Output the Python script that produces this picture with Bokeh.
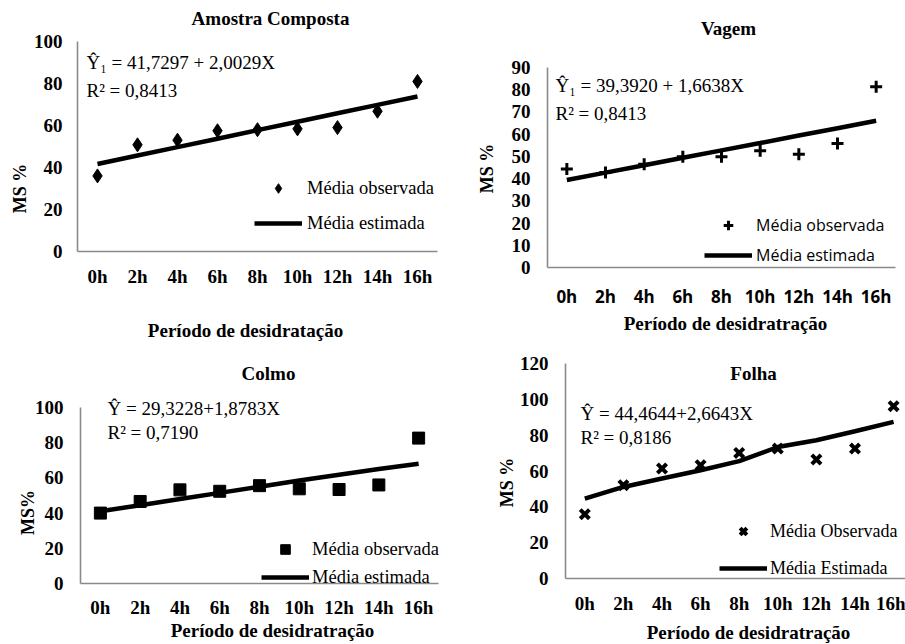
import math
from bokeh.plotting import figure
from bokeh.models import Range1d, FixedTicker, Label, Legend, LegendItem
from bokeh.layouts import column, row
from bokeh.embed import file_html
from bokeh.resources import INLINE

# ---------------- data ----------------
hours = [0, 2, 4, 6, 8, 10, 12, 14, 16]
hour_labels = ["0h", "2h", "4h", "6h", "8h", "10h", "12h", "14h", "16h"]

amostra_obs = [36.0, 50.8, 53.0, 57.5, 58.0, 58.4, 59.0, 66.8, 81.0]
amostra_est = [41.7, 45.7, 49.7, 53.7, 57.8, 61.8, 65.8, 69.8, 73.8]

vagem_obs = [44.3, 42.8, 46.5, 49.8, 49.8, 52.5, 51.0, 55.8, 81.3]
vagem_est = [39.4, 42.7, 46.0, 49.4, 52.7, 56.0, 59.4, 62.7, 66.0]

colmo_obs = [40.0, 46.6, 53.2, 52.4, 55.6, 53.8, 53.4, 56.0, 82.6]
colmo_est = [41.0, 44.5, 48.0, 51.5, 55.0, 58.5, 61.8, 65.0, 68.0]

folha_obs = [35.9, 52.1, 61.4, 63.2, 70.1, 72.5, 66.4, 72.5, 96.2]
folha_est = [44.6, 51.1, 55.8, 60.4, 65.5, 73.4, 77.2, 82.2, 87.4]

amostra_ticks = [0, 20, 40, 60, 80, 100]
vagem_ticks = [0, 10, 20, 30, 40, 50, 60, 70, 80, 90]
colmo_ticks = [0, 20, 40, 60, 80, 100]
folha_ticks = [0, 20, 40, 60, 80, 100, 120]

SERIF = "Liberation Serif"
SANS = "Open Sans"
AXIS_GRAY = "#8a8a8a"

# geometry in page pixels: canvas origin/size, y-axis x, x-axis y,
# y of the top of the value axis, pixels per hour along x
panels = [
    dict(obs=amostra_obs, est=amostra_est, yticks=amostra_ticks,
         origin=(0, 0), size=(460, 350), L=77, B=251, ytop=41, ppx=20.0,
         marker="diamond", msize=14, mlw=1,
         title=("Amostra Composta", 270, 18),
         eq1=("Ŷ₁ = 41,7297 + 2,0029X", 86, 62), eq2=("R² = 0,8413", 86, 90),
         ytitle=("MS %", 19, 188), xtitle=("Período de desidratação", 245, 330),
         leg=dict(cx=278, y1=188, y2=223, tx=307, font=SERIF, size="18.5px"),
         xfont=SERIF, xfsize="19px", ystand=15, xstand=14),
    dict(obs=vagem_obs, est=vagem_est, yticks=vagem_ticks,
         origin=(460, 0), size=(445, 350), L=547, B=267, ytop=67, ppx=19.333,
         marker="cross", msize=12, mlw=3,
         title=("Vagem", 728, 28),
         eq1=("Ŷ₁ = 39,3920 + 1,6638X", 555, 85), eq2=("R² = 0,8413", 555, 113),
         ytitle=("MS %", 486, 168), xtitle=("Período de desidratração", 725, 323),
         leg=dict(cx=728, y1=225, y2=255, tx=756, font=SANS, size="16px"),
         xfont=SANS, xfsize="17px", ystand=17, xstand=17),
    dict(obs=colmo_obs, est=colmo_est, yticks=colmo_ticks,
         origin=(0, 350), size=(460, 294), L=80, B=583, ytop=407, ppx=19.89,
         marker="square", msize=12, mlw=1,
         title=("Colmo", 268, 373),
         eq1=("Ŷ = 29,3228+1,8783X", 107, 408), eq2=("R² = 0,7190", 107, 432),
         ytitle=("MS%", 27, 512), xtitle=("Período de desidratração", 272, 630),
         leg=dict(cx=285, y1=549, y2=577, tx=312, font=SERIF, size="18.5px"),
         xfont=SERIF, xfsize="19px", ystand=17, xstand=13),
    dict(obs=folha_obs, est=folha_est, yticks=folha_ticks,
         origin=(460, 350), size=(445, 294), L=565, B=578, ytop=363, ppx=19.3,
         marker="x", msize=13, mlw=4,
         title=("Folha", 753, 373),
         eq1=("Ŷ = 44,4644+2,6643X", 580, 413), eq2=("R² = 0,8186", 580, 437),
         ytitle=("MS %", 506, 482), xtitle=("Período de desidratração", 748, 632),
         leg=dict(cx=743, y1=531, y2=568, tx=770, font=SERIF, size="18px"),
         xfont=SERIF, xfsize="19px", ystand=17, xstand=14),
]

obs_labels = ["Média observada", "Média observada", "Média observada", "Média Observada"]
est_labels = ["Média estimada", "Média estimada", "Média estimada", "Média Estimada"]


def build(cfg, obs_label, est_label):
    cx, cy = cfg["origin"]
    w, h = cfg["size"]
    L, B = cfg["L"], cfg["B"]
    ymax = cfg["yticks"][-1]
    ppy = (B - cfg["ytop"]) / ymax
    ppx = cfg["ppx"]
    # the frame fills the whole canvas; axes are pinned at x=-1 / y=0
    x0 = -1.0 - (L - cx) / ppx
    x1 = -1.0 + (cx + w - L) / ppx
    y0 = -(cy + h - B) / ppy
    y1 = (B - cy) / ppy
    p = figure(width=w, height=h, x_range=Range1d(x0, x1), y_range=Range1d(y0, y1),
               output_backend="svg", toolbar_location=None, title=None,
               min_border=0, min_border_left=0, min_border_right=0,
               min_border_top=0, min_border_bottom=0)
    p.frame_align = False
    p.outline_line_color = None
    p.xgrid.visible = False
    p.ygrid.visible = False
    p.background_fill_color = "white"
    p.border_fill_color = "white"

    def dx(px):
        return x0 + (px - cx) / ppx

    def dy(py):
        return y1 - (py - cy) / ppy

    for ax in (p.xaxis[0], p.yaxis[0]):
        ax.axis_line_color = AXIS_GRAY
        ax.axis_line_width = 1.6
        ax.major_tick_line_color = None
        ax.minor_tick_line_color = None
        ax.major_tick_out = 0
        ax.major_tick_in = 0
        ax.major_label_text_color = "black"
        ax.major_label_text_font_style = "bold"

    p.xaxis.fixed_location = 0
    p.xaxis.ticker = FixedTicker(ticks=hours)
    p.xaxis.bounds = (-1, 17)
    p.xaxis.major_label_overrides = {hh: lab for hh, lab in zip(hours, hour_labels)}
    p.xaxis.major_label_text_font = cfg["xfont"]
    p.xaxis.major_label_text_font_size = cfg["xfsize"]
    p.xaxis.major_label_standoff = cfg["xstand"]

    p.yaxis.fixed_location = -1
    p.yaxis.ticker = FixedTicker(ticks=cfg["yticks"])
    p.yaxis.bounds = (0, ymax)
    p.yaxis.major_label_text_font = SERIF
    p.yaxis.major_label_text_font_size = "19px"
    p.yaxis.major_label_standoff = cfg["ystand"]

    lr = p.line(hours, cfg["est"], line_color="black", line_width=4.5)
    sr = p.scatter(hours, cfg["obs"], marker=cfg["marker"], size=cfg["msize"],
                   fill_color="black", line_color="black", line_width=cfg["mlw"])

    lg = cfg["leg"]
    H = 24
    legend = Legend(
        items=[LegendItem(label=obs_label, renderers=[sr]),
               LegendItem(label=est_label, renderers=[lr])],
        location=(lg["cx"] - 24 - cx, (cy + h) - (lg["y2"] + H / 2)),
        orientation="vertical",
        glyph_width=48, glyph_height=H, label_height=H,
        spacing=(lg["y2"] - lg["y1"]) - H,
        label_standoff=lg["tx"] - (lg["cx"] + 24),
        padding=0, margin=0,
        border_line_color=None, background_fill_alpha=0,
        label_text_font=lg["font"], label_text_font_size=lg["size"],
        label_text_color="black",
    )
    p.add_layout(legend, "center")

    def lab(spec, align="left", bold=False, size="19px", angle=0.0):
        text, px, py = spec
        p.add_layout(Label(x=dx(px), y=dy(py), text=text, text_align=align,
                           text_baseline="middle", angle=angle,
                           text_font=SERIF, text_font_size=size,
                           text_font_style="bold" if bold else "normal",
                           text_color="black"))

    lab(cfg["title"], align="center", bold=True, size="19px")
    lab(cfg["eq1"])
    lab(cfg["eq2"])
    lab(cfg["ytitle"], align="center", bold=True, size="18px", angle=math.pi / 2)
    lab(cfg["xtitle"], align="center", bold=True)
    return p


figs = [build(c, o, e) for c, o, e in zip(panels, obs_labels, est_labels)]
layout = column(row(figs[0], figs[1]), row(figs[2], figs[3]))

open("out.html", "w").write(file_html(layout, INLINE))
